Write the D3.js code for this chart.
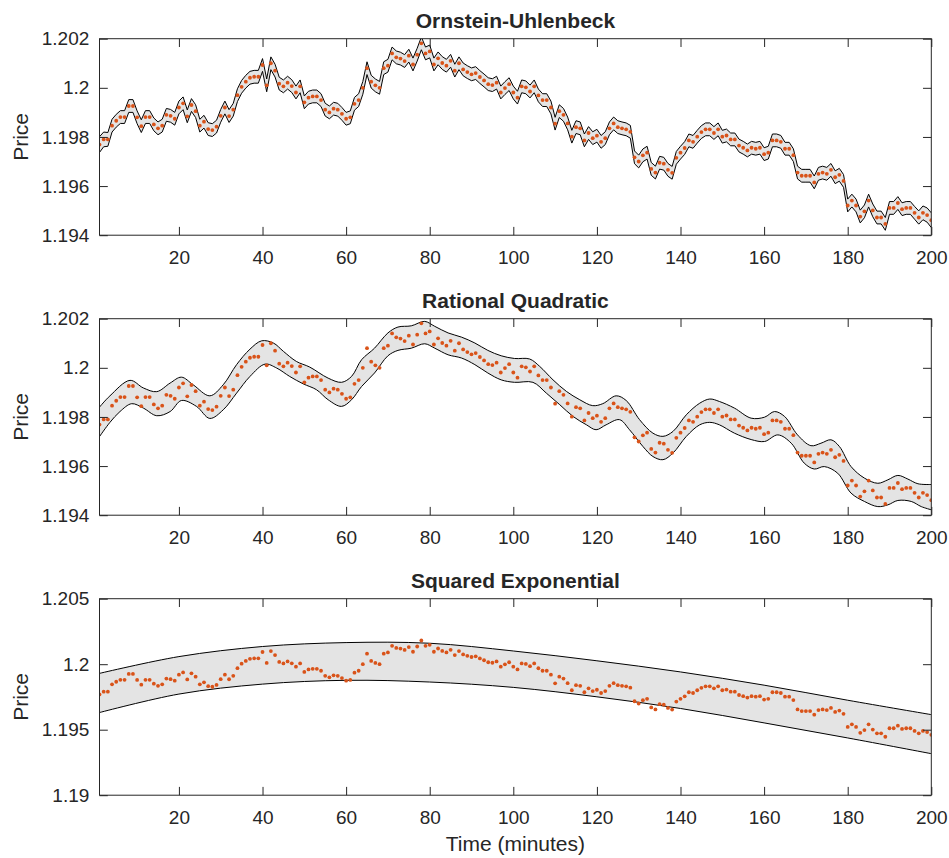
<!DOCTYPE html>
<html><head><meta charset="utf-8">
<script src="https://cdn.jsdelivr.net/npm/d3@7"></script>
<style>
body{margin:0;background:#fff}
svg{display:block}
text{font-family:"Liberation Sans",Arial,Helvetica,sans-serif;fill:#262626}
</style>
</head><body>
<svg id="chart" width="949" height="858"></svg>
<script>
// ---------------- DATA ----------------
const time = d3.range(1, 201);
const price = [
1.19769,1.19790,1.19790,1.19846,1.19866,1.19881,1.19881,1.19926,1.19926,1.19880,
1.19844,1.19881,1.19881,1.19851,1.19835,1.19846,1.19890,1.19886,1.19874,1.19920,
1.19937,1.19884,1.19930,1.19905,1.19846,1.19862,1.19832,1.19828,1.19842,1.19886,
1.19920,1.19885,1.19911,1.19970,1.20004,1.20025,1.20041,1.20045,1.20045,1.20093,
1.20010,1.20100,1.20070,1.20017,1.20006,1.20021,1.20007,1.19981,1.20006,1.19941,
1.19960,1.19965,1.19965,1.19950,1.19911,1.19900,1.19915,1.19911,1.19894,1.19874,
1.19880,1.19935,1.19950,1.20000,1.20080,1.20025,1.20010,1.20000,1.20080,1.20090,
1.20140,1.20124,1.20119,1.20109,1.20131,1.20095,1.20135,1.20181,1.20140,1.20148,
1.20095,1.20120,1.20101,1.20090,1.20110,1.20070,1.20100,1.20075,1.20064,1.20055,
1.20060,1.20044,1.20030,1.20015,1.20011,1.20021,1.19981,1.19999,1.20015,1.19981,
1.19960,1.20006,1.20002,1.19985,1.20006,1.19969,1.19950,1.19950,1.19920,1.19854,
1.19905,1.19890,1.19855,1.19801,1.19840,1.19835,1.19786,1.19816,1.19795,1.19805,
1.19780,1.19795,1.19835,1.19855,1.19840,1.19835,1.19831,1.19821,1.19717,1.19700,
1.19725,1.19736,1.19670,1.19655,1.19695,1.19691,1.19666,1.19654,1.19715,1.19736,
1.19755,1.19786,1.19780,1.19801,1.19820,1.19831,1.19831,1.19816,1.19831,1.19801,
1.19806,1.19790,1.19790,1.19765,1.19756,1.19745,1.19756,1.19752,1.19756,1.19730,
1.19736,1.19786,1.19786,1.19780,1.19752,1.19752,1.19726,1.19655,1.19642,1.19642,
1.19642,1.19615,1.19650,1.19655,1.19650,1.19666,1.19636,1.19646,1.19621,1.19521,
1.19541,1.19521,1.19476,1.19497,1.19541,1.19501,1.19472,1.19472,1.19446,1.19511,
1.19511,1.19531,1.19506,1.19511,1.19511,1.19491,1.19472,1.19491,1.19482,1.19461
];

// Ornstein-Uhlenbeck confidence half-width
const ouHalfWidthTime = [1, 4, 196, 200];
const ouHalfWidth = [0.00032, 0.00026, 0.00026, 0.00030];

// Rational Quadratic confidence band edges
const rqUpperTime = [1,3.5,8.3,11.5,14.7,17.9,20.6,23.4,27.4,30.6,33.8,37.0,39.8,42.6,45.0,48.1,51.3,55.7,58.9,61.3,
 63.7,66.8,70.0,72.4,75.6,78.8,81.2,84.4,87.6,90.8,93.9,97.1,100.3,103.9,106.3,109.5,112.7,115.9,119.0,121.4,
 124.6,127.0,130.2,133.4,135.8,138.2,141.4,144.6,147.0,149.3,152.9,156.9,160.1,162.5,164.9,168.0,171.2,173.6,176.0,178.0,
 180.8,184.0,187.2,189.6,192.0,194.4,196.8,200];
const rqUpperPrice = [1.19840,1.19886,1.19949,1.19918,1.19903,1.19938,1.19962,1.19931,1.19886,1.19931,
 1.20013,1.20076,1.20110,1.20101,1.20067,1.20026,1.20003,1.19958,1.19941,1.19965,
 1.20033,1.20080,1.20142,1.20166,1.20171,1.20189,1.20169,1.20142,1.20125,1.20101,
 1.20071,1.20049,1.20038,1.20036,1.20006,1.19951,1.19904,1.19870,1.19846,1.19854,
 1.19886,1.19867,1.19789,1.19734,1.19721,1.19741,1.19809,1.19856,1.19873,1.19863,
 1.19836,1.19795,1.19799,1.19822,1.19802,1.19727,1.19683,1.19693,1.19707,1.19680,
 1.19598,1.19551,1.19530,1.19544,1.19562,1.19547,1.19528,1.19525];
const rqLowerTime = [1,3.5,5.9,8.7,11.5,14.7,17.9,20.6,24.2,27.4,30.6,33.8,37.0,40.6,43.4,46.5,49.7,52.9,55.7,58.9,
 61.3,63.7,66.8,70.0,72.4,75.6,78.8,81.2,84.4,87.6,90.8,93.9,97.1,100.3,104.7,107.9,111.1,114.3,117.5,119.8,
 122.2,125.4,127.8,131.0,133.4,135.8,138.2,141.4,144.6,147.0,149.3,152.9,156.9,160.1,163.3,166.5,169.6,172.0,174.4,177.6,
 180.8,184.0,187.2,189.6,192.0,195.2,197.6,200];
const rqLowerPrice = [1.19720,1.19778,1.19822,1.19854,1.19836,1.19805,1.19822,1.19867,1.19843,1.19794,
 1.19829,1.19897,1.19965,1.20015,1.19999,1.19965,1.19935,1.19911,1.19870,1.19843,
 1.19870,1.19924,1.19979,1.20049,1.20071,1.20080,1.20098,1.20080,1.20053,1.20040,
 1.20013,1.19979,1.19951,1.19941,1.19941,1.19897,1.19850,1.19802,1.19768,1.19748,
 1.19768,1.19789,1.19748,1.19680,1.19639,1.19626,1.19653,1.19721,1.19768,1.19778,
 1.19768,1.19734,1.19708,1.19700,1.19727,1.19693,1.19612,1.19588,1.19598,1.19571,
 1.19490,1.19456,1.19435,1.19442,1.19460,1.19456,1.19435,1.19422];

// Squared Exponential confidence band edges
const seTime = [1,20,40,60,80,100,120,140,160,180,200];
const seUpperPrice = [1.19930,1.20058,1.20135,1.20165,1.20160,1.20101,1.20026,1.19941,1.19840,1.19725,1.19615];
const seLowerPrice = [1.19631,1.19772,1.19848,1.19877,1.19864,1.19823,1.19751,1.19662,1.19552,1.19437,1.19317];

// Axis ticks
const xTicks = [20,40,60,80,100,120,140,160,180,200];
const yTicksAB = [1.194,1.196,1.198,1.2,1.202];
const yTickLabelsAB = ["1.194","1.196","1.198","1.2","1.202"];
const yTicksC = [1.19,1.195,1.2,1.205];
const yTickLabelsC = ["1.19","1.195","1.2","1.205"];
const titles = ["Ornstein-Uhlenbeck","Rational Quadratic","Squared Exponential"];

// ---------------- LAYOUT ----------------
const svg = d3.select("#chart");
const L = 99.5, R = 931.3, H = 196.5;
const tops = [38.7, 318.7, 598.7];
const axisColor = "#262626";
const tickLen = 8.3;
const fillColor = "#e4e4e4";
const dotColor = "#D95319";

const x = d3.scaleLinear().domain([1,200]).range([L,R]);

const panels = [
  {title: titles[0], domain:[1.194,1.202], ticks:yTicksAB, labels:yTickLabelsAB, kind:"ou"},
  {title: titles[1], domain:[1.194,1.202], ticks:yTicksAB, labels:yTickLabelsAB, kind:"rq"},
  {title: titles[2], domain:[1.19,1.205], ticks:yTicksC, labels:yTickLabelsC, kind:"se"}
];

const hw = d3.scaleLinear().domain(ouHalfWidthTime).range(ouHalfWidth);

panels.forEach((p, k) => {
  const top = tops[k], bottom = top + H;
  const y = d3.scaleLinear().domain(p.domain).range([bottom, top]);
  const g = svg.append("g");
  const clipId = "clip" + k;
  svg.append("defs").append("clipPath").attr("id", clipId)
    .append("rect").attr("x", L).attr("y", top).attr("width", R-L).attr("height", H);
  const plot = g.append("g").attr("clip-path", `url(#${clipId})`);

  if (p.kind === "ou") {
    const area = d3.area().x((d,i)=>x(time[i]))
      .y0((d,i)=>y(d - hw(time[i]))).y1((d,i)=>y(d + hw(time[i])));
    plot.append("path").attr("d", area(price)).attr("fill", fillColor).attr("stroke","none");
    const lu = d3.line().x((d,i)=>x(time[i])).y((d,i)=>y(d + hw(time[i])));
    const ll = d3.line().x((d,i)=>x(time[i])).y((d,i)=>y(d - hw(time[i])));
    plot.append("path").attr("d", lu(price)).attr("fill","none").attr("stroke","#000").attr("stroke-width",1);
    plot.append("path").attr("d", ll(price)).attr("fill","none").attr("stroke","#000").attr("stroke-width",1);
  } else {
    let ut, up, lt, lp;
    if (p.kind === "rq") { ut = rqUpperTime; up = rqUpperPrice; lt = rqLowerTime; lp = rqLowerPrice; }
    else { ut = seTime; up = seUpperPrice; lt = seTime; lp = seLowerPrice; }
    const upts = ut.map((t,i)=>[t, up[i]]);
    const lpts = lt.map((t,i)=>[t, lp[i]]);
    const line = d3.line().x(d=>x(d[0])).y(d=>y(d[1])).curve(d3.curveCatmullRom.alpha(0.5));
    const fillD = line(upts) + "L" + line(lpts.slice().reverse()).slice(1) + "Z";
    plot.append("path").attr("d", fillD).attr("fill", fillColor).attr("stroke","none");
    plot.append("path").attr("d", line(upts)).attr("fill","none").attr("stroke","#000").attr("stroke-width",1);
    plot.append("path").attr("d", line(lpts)).attr("fill","none").attr("stroke","#000").attr("stroke-width",1);
  }

  plot.selectAll("circle.pt").data(price).join("circle").attr("class","pt")
    .attr("cx",(d,i)=>x(time[i])).attr("cy",d=>y(d)).attr("r",1.9).attr("fill",dotColor);

  // axes
  const styleAxis = sel => {
    sel.select(".domain").remove();
    sel.selectAll(".tick line").attr("stroke", axisColor).attr("stroke-width",1);
    sel.selectAll(".tick text").attr("fill", axisColor).style("font-size","19px")
      .style("font-family",'"Liberation Sans",Arial,Helvetica,sans-serif');
  };
  g.append("g").attr("transform",`translate(0,${bottom})`)
    .call(d3.axisBottom(x).tickValues(xTicks).tickSize(-tickLen).tickPadding(15).tickFormat(d3.format("d")))
    .call(styleAxis);
  g.append("g").attr("transform",`translate(0,${top})`)
    .call(d3.axisTop(x).tickValues(xTicks).tickSize(-tickLen).tickFormat(""))
    .call(styleAxis);
  g.append("g").attr("transform",`translate(${L},0)`)
    .call(d3.axisLeft(y).tickValues(p.ticks).tickSize(-tickLen).tickPadding(10.2).tickFormat((d,i)=>p.labels[i]))
    .call(styleAxis);
  g.append("g").attr("transform",`translate(${R},0)`)
    .call(d3.axisRight(y).tickValues(p.ticks).tickSize(-tickLen).tickFormat(""))
    .call(styleAxis);
  g.selectAll(".tick text").attr("font-family", null);

  g.append("rect").attr("x",L).attr("y",top).attr("width",R-L).attr("height",H)
    .attr("fill","none").attr("stroke",axisColor).attr("stroke-width",1);

  g.append("text").attr("x",(L+R)/2).attr("y",top-11.2).attr("text-anchor","middle")
    .style("font-size","21px").style("font-weight","bold").attr("fill","#000").text(p.title);

  g.append("text").attr("transform",`translate(28.3,${top+H/2}) rotate(-90)`)
    .attr("text-anchor","middle").style("font-size","21px").text("Price");
});

svg.append("text").attr("x",(L+R)/2).attr("y",851).attr("text-anchor","middle")
  .style("font-size","21px").text("Time (minutes)");
</script>
</body></html>
